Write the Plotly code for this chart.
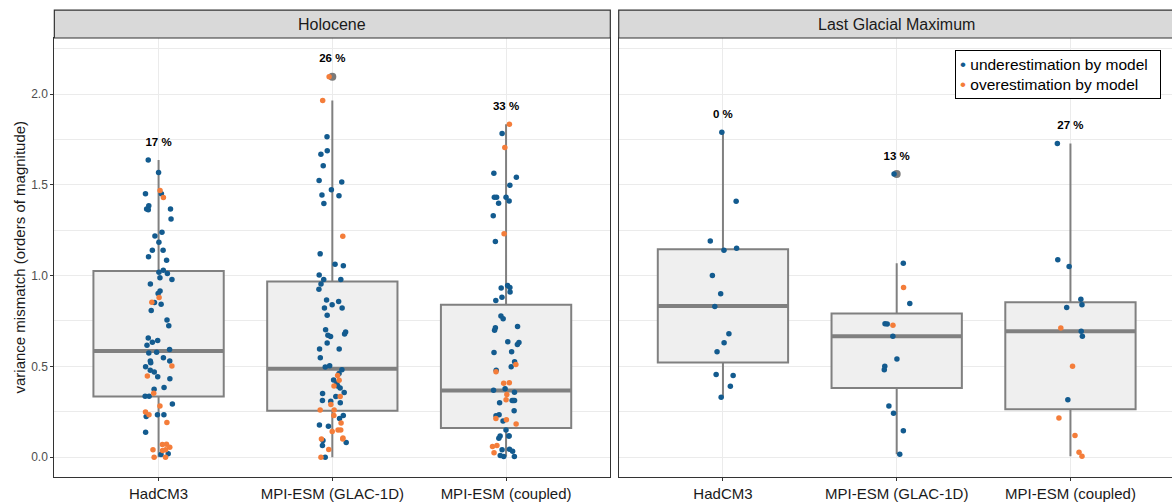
import numpy as np
import plotly.graph_objects as go

# --- categories -------------------------------------------------------------
models = ["HadCM3", "MPI-ESM (GLAC-1D)", "MPI-ESM (coupled)"]
periods = ["Holocene", "Last Glacial Maximum"]
legend_labels = ["underestimation by model", "overestimation by model"]
y_title = "variance mismatch (orders of magnitude)"

# --- variance mismatch per site (orders of magnitude) -----------------------
# Holocene
hol_hadcm3_under = [1.637, 1.568, 1.45, 1.45, 1.384, 1.366, 1.366, 1.362, 1.311, 1.238,
                    1.218, 1.183, 1.14, 1.14, 1.103, 1.085, 1.030, 1.018, 1.012, 0.988,
                    0.979, 0.953, 0.915, 0.901, 0.852, 0.842, 0.808, 0.755, 0.724, 0.656,
                    0.642, 0.633, 0.616, 0.593, 0.578, 0.574, 0.547, 0.529, 0.529, 0.520,
                    0.498, 0.478, 0.469, 0.443, 0.432, 0.383, 0.374, 0.336, 0.336, 0.292,
                    0.233, 0.233, 0.224, 0.137, 0.018, 0.015]
hol_hadcm3_over = [1.468, 1.430, 0.879, 0.853, 0.502, 0.447, 0.352, 0.281, 0.248, 0.233,
                   0.191, 0.071, 0.069, 0.055, 0.040, 0.040, 0.037, 0.0, 0.0]

hol_glac_under = [1.765, 1.687, 1.668, 1.605, 1.524, 1.515, 1.473, 1.444, 1.440, 1.397,
                  1.120, 1.063, 1.054, 1.003, 0.979, 0.979, 0.954, 0.925, 0.866, 0.857,
                  0.839, 0.821, 0.821, 0.781, 0.702, 0.689, 0.678, 0.671, 0.665, 0.629,
                  0.596, 0.596, 0.547, 0.503, 0.496, 0.481, 0.460, 0.425, 0.409, 0.392,
                  0.381, 0.356, 0.350, 0.334, 0.312, 0.308, 0.299, 0.230, 0.213, 0.177,
                  0.170, 0.091, 0.080, 0.064, 0.000]
hol_glac_over = [2.095, 1.964, 1.216, 0.449, 0.423, 0.392, 0.334, 0.290, 0.259, 0.259,
                 0.230, 0.188, 0.150, 0.150, 0.141, 0.106, 0.100, 0.100, 0.042, 0.000]

hol_coupled_under = [1.783, 1.563, 1.541, 1.497, 1.432, 1.432, 1.432, 1.411, 1.399, 1.329,
                     1.187, 0.945, 0.935, 0.932, 0.910, 0.881, 0.863, 0.777, 0.762, 0.720,
                     0.713, 0.699, 0.636, 0.631, 0.620, 0.581, 0.576, 0.525, 0.498, 0.478,
                     0.376, 0.368, 0.357, 0.312, 0.312, 0.312, 0.299, 0.255, 0.233, 0.228,
                     0.199, 0.150, 0.117, 0.117, 0.117, 0.104, 0.044, 0.040, 0.033, 0.009,
                     0.004, 0.004]
hol_coupled_over = [1.833, 1.705, 1.231, 0.510, 0.470, 0.410, 0.407, 0.345, 0.316, 0.213,
                    0.206, 0.182, 0.064, 0.059, 0.024]

# Last Glacial Maximum
lgm_hadcm3_under = [1.79, 1.41, 1.19, 1.15, 1.14, 1.00, 0.90, 0.83, 0.68, 0.63, 0.58,
                    0.455, 0.45, 0.39, 0.33]
lgm_hadcm3_over = []

lgm_glac_under = [1.56, 1.068, 0.846, 0.735, 0.733, 0.666, 0.54, 0.50, 0.481, 0.281,
                  0.242, 0.146, 0.016]
lgm_glac_over = [0.934, 0.726]

lgm_coupled_under = [1.727, 1.087, 1.05, 0.87, 0.839, 0.824, 0.693, 0.666, 0.316]
lgm_coupled_over = [0.711, 0.501, 0.215, 0.119, 0.027, 0.005]

# --- box statistics ---------------------------------------------------------
hol_q1 = [0.334, 0.255, 0.160]
hol_median = [0.585, 0.487, 0.367]
hol_q3 = [1.025, 0.968, 0.839]
lgm_q1 = [0.521, 0.381, 0.264]
lgm_median = [0.833, 0.666, 0.693]
lgm_q3 = [1.145, 0.791, 0.853]

# share of sites per model (%)
hol_pct = [17, 26, 33]
lgm_pct = [0, 13, 27]

# --- styling ----------------------------------------------------------------
BLUE = "#135b8f"
ORANGE = "#f47d3a"
BOX_LINE = "#808080"
BOX_FILL = "#efefef"
GRID = "#ebebeb"
FRAME = "#333333"
FONT = "Liberation Sans, Arial, sans-serif"
BOX_W = 0.75
JITTER = 0.08

panels = [
    dict(xa="x", ya="y",
         under=[hol_hadcm3_under, hol_glac_under, hol_coupled_under],
         over=[hol_hadcm3_over, hol_glac_over, hol_coupled_over],
         q1=hol_q1, med=hol_median, q3=hol_q3, pct=hol_pct),
    dict(xa="x2", ya="y2",
         under=[lgm_hadcm3_under, lgm_glac_under, lgm_coupled_under],
         over=[lgm_hadcm3_over, lgm_glac_over, lgm_coupled_over],
         q1=lgm_q1, med=lgm_median, q3=lgm_q3, pct=lgm_pct),
]

rng = np.random.default_rng(11)
pos = [1, 2, 3]

fig = go.Figure()

for k, p in enumerate(panels):
    lo_f, hi_f, out_x, out_y, lab_y = [], [], [], [], []
    for i in range(3):
        vals = np.array(p["under"][i] + p["over"][i], dtype=float)
        iqr = p["q3"][i] - p["q1"][i]
        inside = vals[(vals >= p["q1"][i] - 1.5 * iqr) & (vals <= p["q3"][i] + 1.5 * iqr)]
        lo, hi = inside.min(), inside.max()
        lo_f.append(lo)
        hi_f.append(hi)
        outs = vals[(vals < lo) | (vals > hi)]
        out_x += [pos[i]] * len(outs)
        out_y += list(outs)
        lab_y.append(vals.max() + 0.095)

    # boxes with whiskers
    fig.add_trace(go.Box(
        x=pos, q1=p["q1"], median=p["med"], q3=p["q3"],
        lowerfence=lo_f, upperfence=hi_f,
        width=BOX_W, whiskerwidth=0, boxpoints=False,
        fillcolor=BOX_FILL, line=dict(color=BOX_LINE, width=2),
        showlegend=False, hoverinfo="skip",
        xaxis=p["xa"], yaxis=p["ya"],
    ))
    # thicker median bar
    mx, my = [], []
    for i in range(3):
        mx += [pos[i] - BOX_W / 2, pos[i] + BOX_W / 2, None]
        my += [p["med"][i], p["med"][i], None]
    fig.add_trace(go.Scatter(
        x=mx, y=my, mode="lines", line=dict(color=BOX_LINE, width=4),
        showlegend=False, hoverinfo="skip", xaxis=p["xa"], yaxis=p["ya"],
    ))
    # boxplot outliers
    fig.add_trace(go.Scatter(
        x=out_x, y=out_y, mode="markers",
        marker=dict(color="#7a7a7a", size=8),
        showlegend=False, hoverinfo="skip", xaxis=p["xa"], yaxis=p["ya"],
    ))
    # jittered site values
    for key, colour, name in [("under", BLUE, legend_labels[0]),
                              ("over", ORANGE, legend_labels[1])]:
        xs, ys = [], []
        for i in range(3):
            v = p[key][i]
            xs += list(pos[i] + rng.uniform(-JITTER, JITTER, len(v)))
            ys += list(v)
        fig.add_trace(go.Scatter(
            x=xs, y=ys, mode="markers", name=name,
            marker=dict(color=colour, size=5.5),
            showlegend=False, xaxis=p["xa"], yaxis=p["ya"],
        ))
    # percentage labels
    fig.add_trace(go.Scatter(
        x=pos, y=lab_y, mode="text", text=[f"{v} %" for v in p["pct"]],
        textfont=dict(family=FONT, size=11.5, color="#000000", weight="bold"),
        showlegend=False, hoverinfo="skip", xaxis=p["xa"], yaxis=p["ya"],
    ))

y_range = [-0.1094, 2.3085]
axis_common = dict(
    showline=True, linecolor=FRAME, linewidth=1.2,
    showgrid=True, gridcolor=GRID, gridwidth=1.2, zeroline=False,
    ticks="outside", ticklen=3, tickcolor=FRAME, tickwidth=1,
)

fig.update_layout(
    width=1172, height=502,
    margin=dict(l=54, r=0, t=38, b=22),
    paper_bgcolor="white", plot_bgcolor="white",
    font=dict(family=FONT, color="#1a1a1a"),
    xaxis=dict(domain=[0.0003, 0.4976], range=[0.4, 3.6], tickvals=pos, ticktext=models,
               mirror=True, tickfont=dict(size=15, color="#1a1a1a"), anchor="y",
               **axis_common),
    xaxis2=dict(domain=[0.5051, 1.0], range=[0.4, 3.5845], tickvals=pos, ticktext=models,
                mirror=True, tickfont=dict(size=15, color="#1a1a1a"), anchor="y2",
                **axis_common),
    yaxis=dict(domain=[0, 1], range=y_range, tickvals=[0, 0.5, 1, 1.5, 2], tickformat=".1f",
               mirror=True, tickfont=dict(size=12, color="#4d4d4d"), anchor="x",
               minor=dict(tickvals=[0.25, 0.75, 1.25, 1.75, 2.25], showgrid=True,
                          gridcolor=GRID, gridwidth=0.6, ticks=""),
               **axis_common),
    yaxis2=dict(domain=[0, 1], range=y_range, tickvals=[0, 0.5, 1, 1.5, 2], anchor="x2",
                showticklabels=False, mirror=False,
                minor=dict(tickvals=[0.25, 0.75, 1.25, 1.75, 2.25], showgrid=True,
                           gridcolor=GRID, gridwidth=0.6, ticks=""),
                **{**axis_common, "ticks": ""}),
    showlegend=False,
)

# y-axis title
fig.add_annotation(xref="paper", yref="y domain", x=-0.0313, y=0.5, text=y_title,
                   textangle=-90, showarrow=False, xanchor="center", yanchor="middle",
                   font=dict(size=15, color="#1a1a1a"))

# facet strips
strip_h = 28 / 442
for xd, yd, title, cx in [("x domain", "y domain", periods[0], 0.5),
                          ("x2 domain", "y2 domain", periods[1], 0.5024)]:
    fig.add_shape(type="rect", xref=xd, yref=yd, x0=0, x1=1.02 if xd.startswith("x2") else 1,
                  y0=1, y1=1 + strip_h, fillcolor="#d9d9d9",
                  line=dict(color=FRAME, width=1.2), layer="above")
    fig.add_annotation(xref=xd, yref=yd, x=cx, y=1 + strip_h / 2, text=title,
                       showarrow=False, font=dict(size=16, color="#1a1a1a"),
                       xanchor="center", yanchor="middle")

# colour key in the upper right of the second panel
key_text = "<br>".join(
    f"<span style='color:{c};font-size:17px'>•</span> {lab}"
    for c, lab in zip([BLUE, ORANGE], legend_labels)
)
fig.add_annotation(
    xref="paper", yref="paper", x=0.9902, y=0.9729, xanchor="right", yanchor="top",
    text=key_text, showarrow=False, align="left", width=196,
    font=dict(size=15.5, color="#000000"),
    bgcolor="white", bordercolor="#000000", borderwidth=1, borderpad=4,
)

fig.write_html("out.html")
